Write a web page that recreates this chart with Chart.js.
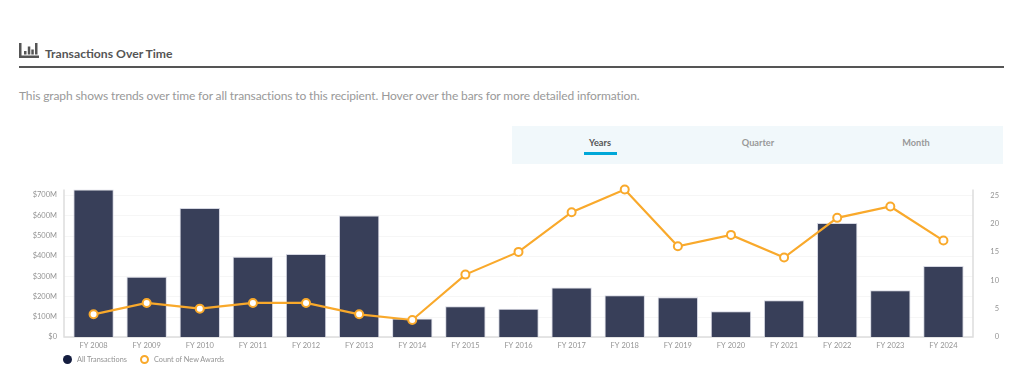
<!DOCTYPE html>
<html>
<head>
<meta charset="utf-8">
<title>Transactions Over Time</title>
<script src="https://cdn.jsdelivr.net/npm/chart.js@4"></script>
<style>
    html, body { margin: 0; padding: 0; background: #fff; width: 1024px; height: 391px; overflow: hidden; font-family: Lato, sans-serif; }
    .abs { position: absolute; white-space: nowrap; }
    #title { left: 45px; top: 46px; font-size: 12.2px; font-weight: 700; color: #555; line-height: 16px; }
    #rule { left: 19px; top: 66px; width: 985px; height: 2px; background: #555; }
    #desc { left: 19px; top: 87px; font-size: 12px; letter-spacing: -0.12px; color: #999; line-height: 18px; }
    #tabs { left: 512px; top: 126px; width: 491px; height: 38px; background: #f1f8fb; }
    .tab { top: 137px; font-size: 9.2px; font-weight: 700; color: #999; line-height: 12px; transform: translateX(-50%); }
    #underline { left: 584px; top: 152px; width: 33px; height: 3px; background: #00a7d8; }
    #chart { position: absolute; left: 0; top: 164px; }
    .dot { top: 355px; width: 9px; height: 9px; border-radius: 50%; box-sizing: border-box; }
    .lgd { top: 355px; font-size: 7.3px; line-height: 10px; color: #949494; }
</style>
</head>
<body>
<svg class="abs" style="left:19px;top:42px" width="21" height="17" viewBox="0 0 21 17">
    <path fill="#555" d="M0 1h2.5v12.5H20V16H0z"/>
    <path fill="#555" d="M5 9h2.5v3.5H5zM8.8 4.5h2.5v8H8.8zM12.3 7.5h2.5v5h-2.5zM16 1h2.5v11.5H16z"/>
</svg>
<div class="abs" id="title">Transactions Over Time</div>
<div class="abs" id="rule"></div>
<div class="abs" id="desc">This graph shows trends over time for all transactions to this recipient. Hover over the bars for more detailed information.</div>
<div class="abs" id="tabs"></div>
<div class="abs tab" style="left:600px;color:#555">Years</div>
<div class="abs tab" style="left:758px">Quarter</div>
<div class="abs tab" style="left:916px">Month</div>
<div class="abs" id="underline"></div>
<canvas id="chart" width="1024" height="211"></canvas>
<div class="abs dot" style="left:63px;background:#141d3f"></div>
<div class="abs lgd" style="left:77px">All Transactions</div>
<div class="abs dot" style="left:140px;background:#fff;border:2px solid #f9a92b"></div>
<div class="abs lgd" style="left:154px">Count of New Awards</div>

<script>
const years = ["FY 2008", "FY 2009", "FY 2010", "FY 2011", "FY 2012", "FY 2013", "FY 2014", "FY 2015", "FY 2016",
    "FY 2017", "FY 2018", "FY 2019", "FY 2020", "FY 2021", "FY 2022", "FY 2023", "FY 2024"];
// millions of dollars
const allTransactions = [727, 297, 636, 396, 409, 599, 91, 152, 139, 244, 206, 196, 127, 181, 562, 231, 350];
const newAwards = [4, 6, 5, 6, 6, 4, 3, 11, 15, 22, 26, 16, 18, 14, 21, 23, 17];

const grey = "#949494";

// the axis frame runs a few px past the outer bars, so draw it here rather than with the scale grid
const axisFrame = {
    id: "axisFrame",
    beforeDatasetsDraw(chart) {
        const { ctx, chartArea: area, scales } = chart;
        const left = area.left - 3, right = area.right + 3;
        ctx.save();
        ctx.lineWidth = 1;
        ctx.strokeStyle = "#f6f6f6";
        scales.y.ticks.forEach(t => {
            const y = Math.round(scales.y.getPixelForValue(t.value)) + 0.5;
            ctx.beginPath();
            ctx.moveTo(left, y);
            ctx.lineTo(right, y);
            ctx.stroke();
        });
        ctx.lineWidth = 1.5;
        ctx.strokeStyle = "#ddd";
        ctx.beginPath();
        ctx.moveTo(left, area.top);
        ctx.lineTo(left, area.bottom);
        ctx.lineTo(right, area.bottom);
        ctx.lineTo(right, area.top);
        ctx.stroke();
        ctx.restore();
    }
};

new Chart(document.getElementById("chart"), {
    type: "bar",
    plugins: [axisFrame],
    data: {
        labels: years,
        datasets: [
            {
                label: "All Transactions",
                data: allTransactions,
                yAxisID: "y",
                order: 2,
                backgroundColor: "#383f59",
                borderColor: "#d5d7e2",
                borderWidth: 1,
                categoryPercentage: 1,
                barPercentage: 0.76,
                clip: false
            },
            {
                type: "line",
                label: "Count of New Awards",
                data: newAwards,
                yAxisID: "y1",
                order: 1,
                borderColor: "#f9a92b",
                borderWidth: 2.2,
                backgroundColor: "#fff",
                pointBackgroundColor: "#fff",
                pointBorderColor: "#f9a92b",
                pointBorderWidth: 2,
                pointRadius: 4,
                tension: 0,
                clip: false
            }
        ]
    },
    options: {
        responsive: false,
        animation: false,
        layout: { autoPadding: false, padding: { top: 10, left: 0, right: 25, bottom: 24 } },
        scales: {
            x: {
                grid: { display: false, drawTicks: false },
                border: { display: false },
                ticks: { color: grey, font: { family: "Lato", size: 7.5 }, padding: 4, maxRotation: 0, autoSkip: false },
                afterFit: s => { s.height = 14; }
            },
            y: {
                position: "left",
                min: 0,
                max: 727,
                grid: { display: false, drawTicks: false },
                border: { display: false },
                ticks: {
                    stepSize: 100,
                    includeBounds: false,
                    padding: 10,
                    color: grey,
                    font: { family: "Lato", size: 7.5 },
                    callback: v => "$" + v + (v ? "M" : "")
                },
                afterFit: s => { s.width = 67; }
            },
            y1: {
                position: "right",
                min: 0,
                max: 26,
                grid: { display: false, drawTicks: false },
                border: { display: false },
                ticks: {
                    stepSize: 5,
                    includeBounds: false,
                    padding: 21,
                    crossAlign: "far",
                    color: grey,
                    font: { family: "Lato", size: 7.5 }
                },
                afterFit: s => { s.width = 29; }
            }
        },
        plugins: {
            tooltip: { enabled: false },
            legend: { display: false }
        }
    }
});
</script>
</body>
</html>
